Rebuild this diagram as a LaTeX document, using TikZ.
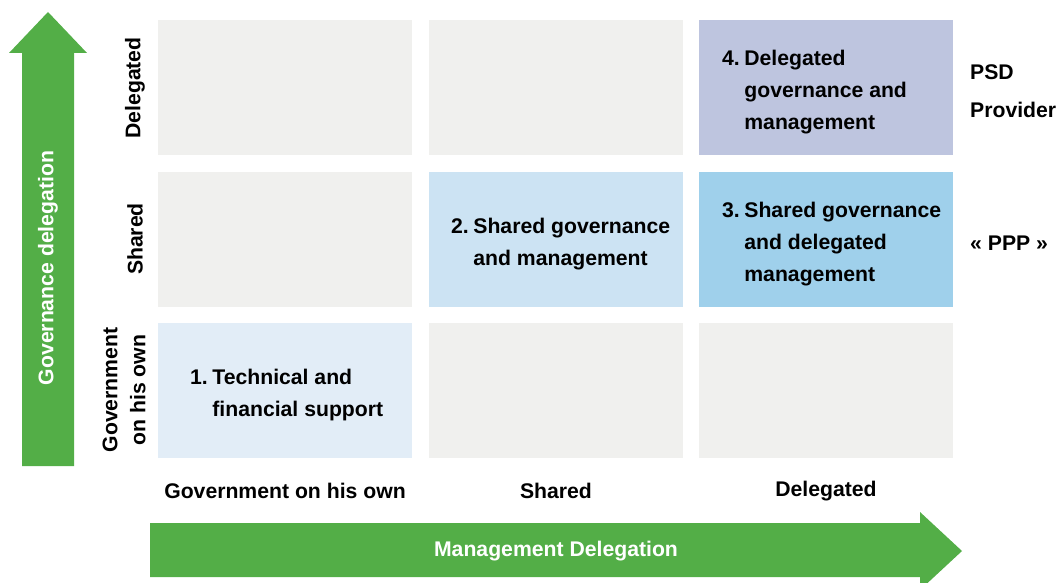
\documentclass[tikz,border=0pt]{standalone}
\usepackage{fontspec}
\setmainfont{Liberation Sans}
\usetikzlibrary{positioning}
\definecolor{cellgray}{HTML}{F0F0EE}
\definecolor{paleblue}{HTML}{E2EDF7}
\definecolor{lightblue}{HTML}{CCE3F3}
\definecolor{midblue}{HTML}{9FD0EB}
\definecolor{lavender}{HTML}{BEC5DF}
\definecolor{arrowgreen}{HTML}{53AE47}
\newcommand{\numbered}[2]{\begin{tabular}{@{}l@{\hspace{4.5pt}}l@{}}#1 & \begin{tabular}[t]{@{}l@{}}#2\end{tabular}\end{tabular}}

\begin{document}
\begin{tikzpicture}[x=1pt, y=-1pt,
    cell/.style={minimum width=254pt, minimum height=135pt, inner sep=0pt, anchor=north west, fill=cellgray},
    lbl/.style={font=\bfseries\fontsize{21.2}{32}\selectfont, inner sep=0pt, align=center}]
    \useasboundingbox (0,0) rectangle (1057,583);
    \clip (0,0) rectangle (1057,583);
    % grid of cells
    \foreach \i/\x in {1/158,2/429,3/699}
      \foreach \j/\y in {1/20,2/172,3/323}
        \node[cell] (c\i\j) at (\x,\y) {};
    \fill[paleblue] (c13.north west) rectangle (c13.south east);
    \fill[lightblue] (c22.north west) rectangle (c22.south east);
    \fill[midblue] (c32.north west) rectangle (c32.south east);
    \fill[lavender] (c31.north west) rectangle (c31.south east);
    % arrows
    \fill[arrowgreen] (22,466) -- (22,53) -- (9,53) -- (48,12) -- (87,53) -- (74,53) -- (74,466) -- cycle;
    \fill[arrowgreen] (150,523) -- (920,523) -- (920,512) -- (962,551) -- (920,590) -- (920,577) -- (150,577) -- cycle;
    \node[lbl, white, rotate=90] (gov) at (48,268) {Governance delegation};
    \node[lbl, white] (man) at (556,551) {Management Delegation};
    % cell texts
    \node[lbl, anchor=west] (t1) at (190,394) {\numbered{1.}{Technical and\\financial support}};
    \node[lbl, anchor=west] (t2) at (451,243) {\numbered{2.}{Shared governance\\and management}};
    \node[lbl, anchor=west] (t3) at (722,243) {\numbered{3.}{Shared governance\\and delegated\\management}};
    \node[lbl, anchor=west] (t4) at (722,91) {\numbered{4.}{Delegated\\governance and\\management}};
    % right side
    \node[lbl, align=left, anchor=west] (psd) at (970,91) {PSD\\[6pt]Provider};
    \node[lbl, anchor=west] (ppp) at (970,243) {« PPP »};
    % axis labels
    \node[lbl, rotate=90] (r1) at (135,88) {Delegated};
    \node[lbl, rotate=90] (r2) at (135,239) {Shared};
    \node[lbl, rotate=90, font=\bfseries\fontsize{21.2}{28}\selectfont] (r3) at (124,390) {Government\\on his own};
    \node[lbl] (k1) at (285,491) {Government on his own};
    \node[lbl] (k2) at (556,491) {Shared};
    \node[lbl] (k3) at (826,491) {Delegated};
\end{tikzpicture}
\end{document}
